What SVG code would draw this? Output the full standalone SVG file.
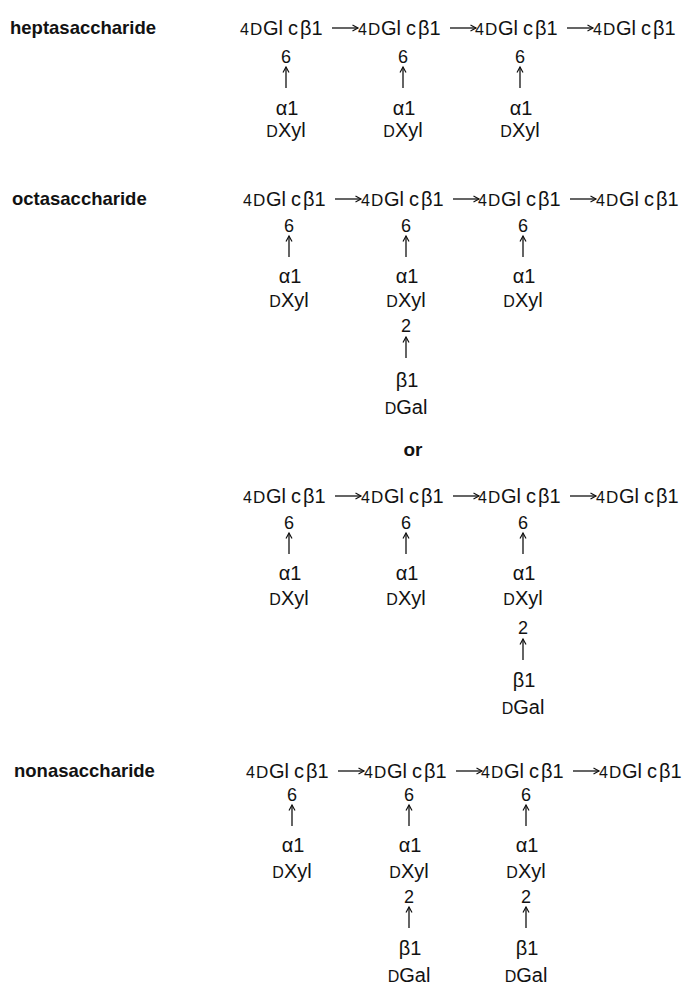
<svg xmlns="http://www.w3.org/2000/svg" xmlns:xlink="http://www.w3.org/1999/xlink" width="692" height="992" viewBox="0 0 692 992">
  <style>
    text { font-family: "Liberation Sans", Arial, sans-serif; fill: #121212; }
    .name { font-weight: bold; font-size: 18.5px; }
    .or { font-weight: bold; font-size: 19px; }
    .res { font-size: 20px; }
    .pos { font-size: 18px; text-anchor: middle; }
    .side { font-size: 20px; text-anchor: middle; }
    .sc { font-size: 16px; }
    .link { fill: none; stroke: #121212; stroke-width: 1.3; marker-end: url(#head); }
  </style>
  <defs>
    <marker id="head" markerWidth="10" markerHeight="10" refX="7" refY="4" orient="auto" markerUnits="userSpaceOnUse">
      <path d="M1.5,1 L7,4 L1.5,7" fill="none" stroke="#121212" stroke-width="1.2"/>
    </marker>
    <!-- backbone of four 1,4-linked glucosyl residues, baseline at y=0 -->
    <g id="glc4">
      <text class="res">
        <tspan x="0" class="sc">4</tspan><tspan x="10" font-size="17">D</tspan><tspan x="23">Gl</tspan><tspan x="48">c</tspan><tspan x="60">β1</tspan>
        <tspan x="118" class="sc">4</tspan><tspan x="128" font-size="17">D</tspan><tspan x="141">Gl</tspan><tspan x="166">c</tspan><tspan x="178">β1</tspan>
        <tspan x="235" class="sc">4</tspan><tspan x="245" font-size="17">D</tspan><tspan x="258">Gl</tspan><tspan x="283">c</tspan><tspan x="295">β1</tspan>
        <tspan x="353" class="sc">4</tspan><tspan x="363" font-size="17">D</tspan><tspan x="376">Gl</tspan><tspan x="401">c</tspan><tspan x="413">β1</tspan>
      </text>
    </g>
  </defs>

  <!-- heptasaccharide -->
  <g id="heptasaccharide">
    <text class="name" x="10" y="34">heptasaccharide</text>
    <use xlink:href="#glc4" href="#glc4" x="240" y="35"/>
    <g id="hepta-xyl1">
      <text class="pos" x="286" y="63">6</text>
      <text class="side" x="287" y="115">α1</text>
      <text class="side" x="286" y="137"><tspan class="sc">D</tspan>Xyl</text>
    </g>
    <g id="hepta-xyl2">
      <text class="pos" x="403" y="63">6</text>
      <text class="side" x="404" y="115">α1</text>
      <text class="side" x="403" y="137"><tspan class="sc">D</tspan>Xyl</text>
    </g>
    <g id="hepta-xyl3">
      <text class="pos" x="520" y="63">6</text>
      <text class="side" x="521" y="115">α1</text>
      <text class="side" x="520" y="137"><tspan class="sc">D</tspan>Xyl</text>
    </g>
  </g>

  <!-- octasaccharide, galactose on the second xylose -->
  <g id="octasaccharide-a">
    <text class="name" x="12" y="205">octasaccharide</text>
    <use xlink:href="#glc4" href="#glc4" x="243" y="206"/>
    <g id="octa-a-xyl1">
      <text class="pos" x="289" y="232">6</text>
      <text class="side" x="290" y="283">α1</text>
      <text class="side" x="289" y="307"><tspan class="sc">D</tspan>Xyl</text>
    </g>
    <g id="octa-a-xyl2">
      <text class="pos" x="406" y="232">6</text>
      <text class="side" x="407" y="283">α1</text>
      <text class="side" x="406" y="307"><tspan class="sc">D</tspan>Xyl</text>
      <text class="pos" x="406" y="332">2</text>
      <text class="side" x="407" y="387">β1</text>
      <text class="side" x="406" y="414"><tspan class="sc">D</tspan>Gal</text>
    </g>
    <g id="octa-a-xyl3">
      <text class="pos" x="523" y="232">6</text>
      <text class="side" x="524" y="283">α1</text>
      <text class="side" x="523" y="307"><tspan class="sc">D</tspan>Xyl</text>
    </g>
  </g>

  <text class="or" x="413" y="456" text-anchor="middle">or</text>

  <!-- octasaccharide, galactose on the third xylose -->
  <g id="octasaccharide-b">
    <use xlink:href="#glc4" href="#glc4" x="243" y="503"/>
    <g id="octa-b-xyl1">
      <text class="pos" x="289" y="529">6</text>
      <text class="side" x="290" y="580">α1</text>
      <text class="side" x="289" y="605"><tspan class="sc">D</tspan>Xyl</text>
    </g>
    <g id="octa-b-xyl2">
      <text class="pos" x="406" y="529">6</text>
      <text class="side" x="407" y="580">α1</text>
      <text class="side" x="406" y="605"><tspan class="sc">D</tspan>Xyl</text>
    </g>
    <g id="octa-b-xyl3">
      <text class="pos" x="523" y="529">6</text>
      <text class="side" x="524" y="580">α1</text>
      <text class="side" x="523" y="605"><tspan class="sc">D</tspan>Xyl</text>
      <text class="pos" x="523" y="634">2</text>
      <text class="side" x="524" y="687">β1</text>
      <text class="side" x="523" y="714"><tspan class="sc">D</tspan>Gal</text>
    </g>
  </g>

  <!-- nonasaccharide -->
  <g id="nonasaccharide">
    <text class="name" x="14" y="777">nonasaccharide</text>
    <use xlink:href="#glc4" href="#glc4" x="246" y="778"/>
    <g id="nona-xyl1">
      <text class="pos" x="292" y="801">6</text>
      <text class="side" x="293" y="852">α1</text>
      <text class="side" x="292" y="878"><tspan class="sc">D</tspan>Xyl</text>
    </g>
    <g id="nona-xyl2">
      <text class="pos" x="409" y="801">6</text>
      <text class="side" x="410" y="852">α1</text>
      <text class="side" x="409" y="878"><tspan class="sc">D</tspan>Xyl</text>
      <text class="pos" x="409" y="903">2</text>
      <text class="side" x="410" y="955">β1</text>
      <text class="side" x="409" y="982"><tspan class="sc">D</tspan>Gal</text>
    </g>
    <g id="nona-xyl3">
      <text class="pos" x="526" y="801">6</text>
      <text class="side" x="527" y="852">α1</text>
      <text class="side" x="526" y="878"><tspan class="sc">D</tspan>Xyl</text>
      <text class="pos" x="526" y="903">2</text>
      <text class="side" x="527" y="955">β1</text>
      <text class="side" x="526" y="982"><tspan class="sc">D</tspan>Gal</text>
    </g>
  </g>

  <!-- glycosidic linkages -->
  <g id="connectors">
    <!-- heptasaccharide -->
    <path class="link" d="M332,28 H358"/>
    <path class="link" d="M450,28 H476"/>
    <path class="link" d="M567,28 H593"/>
    <path class="link" d="M286,88 V67"/>
    <path class="link" d="M403,88 V67"/>
    <path class="link" d="M520,88 V67"/>
    <!-- octasaccharide a -->
    <path class="link" d="M335,199 H361"/>
    <path class="link" d="M453,199 H479"/>
    <path class="link" d="M570,199 H596"/>
    <path class="link" d="M289,257 V236"/>
    <path class="link" d="M406,257 V236"/>
    <path class="link" d="M523,257 V236"/>
    <path class="link" d="M406,358 V337"/>
    <!-- octasaccharide b -->
    <path class="link" d="M335,496 H361"/>
    <path class="link" d="M453,496 H479"/>
    <path class="link" d="M570,496 H596"/>
    <path class="link" d="M289,554 V533"/>
    <path class="link" d="M406,554 V533"/>
    <path class="link" d="M523,554 V533"/>
    <path class="link" d="M523,660 V639"/>
    <!-- nonasaccharide -->
    <path class="link" d="M338,771 H364"/>
    <path class="link" d="M456,771 H482"/>
    <path class="link" d="M573,771 H599"/>
    <path class="link" d="M292,826 V805"/>
    <path class="link" d="M409,826 V805"/>
    <path class="link" d="M526,826 V805"/>
    <path class="link" d="M409,928 V907"/>
    <path class="link" d="M526,928 V907"/>
  </g>
</svg>
